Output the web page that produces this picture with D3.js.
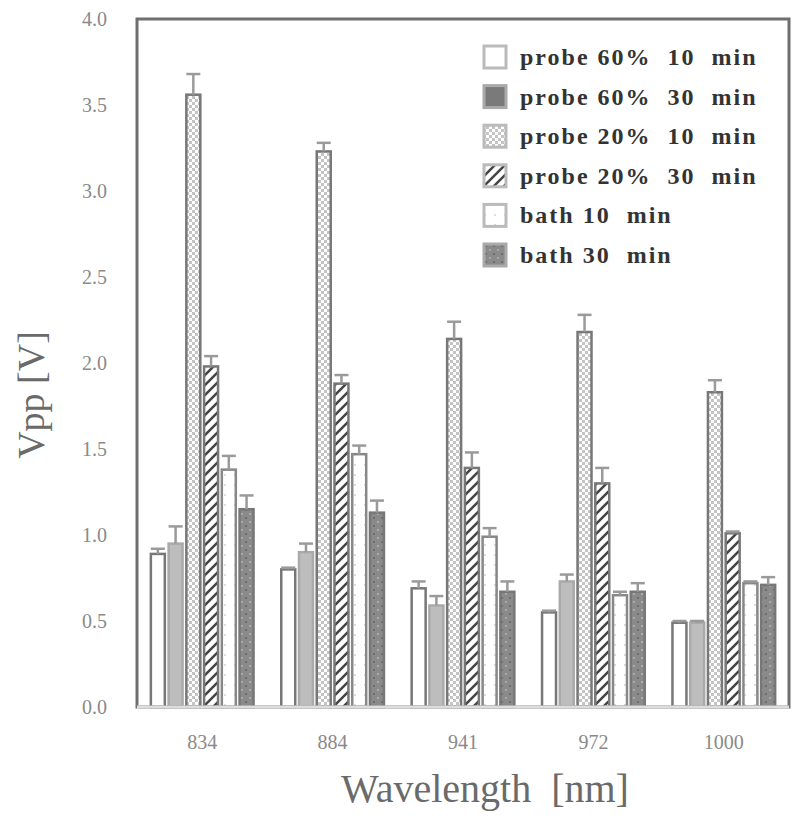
<!DOCTYPE html>
<html><head><meta charset="utf-8">
<script src="https://cdn.jsdelivr.net/npm/d3@7"></script>
<style>
body{margin:0;background:#fff;}
text{font-family:"Liberation Serif","DejaVu Serif",serif;}
</style></head>
<body><svg id="c" width="800" height="820"></svg>
<script>
const categories = ["834","884","941","972","1000"];
const seriesNames = ["probe 60%  10  min","probe 60%  30  min","probe 20%  10  min","probe 20%  30  min","bath 10  min","bath 30  min"];
const p60_10 = [0.89, 0.80, 0.69, 0.55, 0.49];
const p60_30 = [0.95, 0.90, 0.59, 0.73, 0.49];
const p20_10 = [3.56, 3.23, 2.14, 2.18, 1.83];
const p20_30 = [1.98, 1.88, 1.39, 1.30, 1.01];
const bath10 = [1.38, 1.47, 0.99, 0.65, 0.72];
const bath30 = [1.15, 1.13, 0.67, 0.67, 0.71];
const e60_10 = [0.92, 0.81, 0.73, 0.56, 0.50];
const e60_30 = [1.05, 0.95, 0.645, 0.77, 0.50];
const e20_10 = [3.68, 3.28, 2.24, 2.28, 1.90];
const e20_30 = [2.04, 1.93, 1.48, 1.39, 1.02];
const eb10 = [1.46, 1.52, 1.04, 0.67, 0.73];
const eb30 = [1.23, 1.20, 0.73, 0.72, 0.755];
const yTicks = [0,0.5,1.0,1.5,2.0,2.5,3.0,3.5,4.0];

const values = [p60_10,p60_30,p20_10,p20_30,bath10,bath30];
const errs = [e60_10,e60_30,e20_10,e20_30,eb10,eb30];

const SERIF = "'Liberation Serif','DejaVu Serif',serif";
const svg = d3.select("#c");
const L=137, R=789, T=19, B=707;

const defs = svg.append("defs");
const checker = defs.append("pattern").attr("id","checker").attr("patternUnits","userSpaceOnUse").attr("width",6).attr("height",6);
checker.append("rect").attr("width",6).attr("height",6).attr("fill","#fff");
checker.append("rect").attr("width",3).attr("height",3).attr("fill","#c4c4c4");
checker.append("rect").attr("x",3).attr("y",3).attr("width",3).attr("height",3).attr("fill","#c4c4c4");
const hatch = defs.append("pattern").attr("id","hatch").attr("patternUnits","userSpaceOnUse").attr("width",10).attr("height",10);
hatch.append("rect").attr("width",10).attr("height",10).attr("fill","#fff");
hatch.append("path").attr("d","M-2,12 L12,-2 M-2,2 L2,-2 M8,12 L12,8").attr("stroke","#444").attr("stroke-width",2.5);
const dots = defs.append("pattern").attr("id","dots").attr("patternUnits","userSpaceOnUse").attr("width",8).attr("height",8);
dots.append("rect").attr("width",8).attr("height",8).attr("fill","#8a8a8a");
dots.append("rect").attr("x",1).attr("y",1).attr("width",2).attr("height",2).attr("fill","#aaa");
dots.append("rect").attr("x",5).attr("y",5).attr("width",2).attr("height",2).attr("fill","#6e6e6e");
const wdots = defs.append("pattern").attr("id","wdots").attr("patternUnits","userSpaceOnUse").attr("width",10).attr("height",10);
wdots.append("rect").attr("width",10).attr("height",10).attr("fill","#fff");
wdots.append("rect").attr("x",4).attr("y",4).attr("width",2).attr("height",2).attr("fill","#ddd");

const fills = ["#fff","#bdbdbd","url(#checker)","url(#hatch)","url(#wdots)","url(#dots)"];
const strokes = ["#777","#aaa","#777","#777","#888","#777"];
const legendFills = ["#fff","#7a7a7a","url(#checker)","url(#hatch)","url(#wdots)","url(#dots)"];
const legendStrokes = ["#bbb","#aaa","#bbb","#bbb","#bbb","#aaa"];

const x0 = d3.scaleBand().domain(categories).range([L,R]).paddingInner(0.17).paddingOuter(0.085);
const x1 = d3.scaleBand().domain(d3.range(6)).range([0,x0.bandwidth()]).padding(0.1);
const y = d3.scaleLinear().domain([0,4]).range([B,T]);

// bars
const g = svg.append("g");
values.forEach((arr,si)=>{
  g.selectAll(null).data(arr).enter().append("rect")
    .attr("x",(d,i)=>x0(categories[i])+x1(si)+1)
    .attr("width",x1.bandwidth()-2)
    .attr("y",d=>y(d))
    .attr("height",d=>y(0)-y(d))
    .attr("fill",fills[si]).attr("stroke",strokes[si]).attr("stroke-width",2.5);
});
// error bars
errs.forEach((arr,si)=>{
  arr.forEach((e,i)=>{
    const cx = x0(categories[i])+x1(si)+x1.bandwidth()/2;
    const eg = svg.append("g").attr("stroke","#9a9a9a").attr("stroke-width",2.5);
    eg.append("line").attr("x1",cx).attr("x2",cx).attr("y1",y(values[si][i])).attr("y2",y(e));
    eg.append("line").attr("x1",cx-7).attr("x2",cx+7).attr("y1",y(e)).attr("y2",y(e));
  });
});

// frame
svg.append("rect").attr("x",L).attr("y",T).attr("width",R-L).attr("height",B-T)
  .attr("fill","none").attr("stroke","#6f6f6f").attr("stroke-width",3);
svg.append("line").attr("x1",L).attr("x2",R).attr("y1",B).attr("y2",B).attr("stroke","#ddd").attr("stroke-width",3);

// y axis
const yAxis = d3.axisLeft(y).tickValues(yTicks).tickFormat(d3.format(".1f")).tickSize(0).tickPadding(30);
const ya = svg.append("g").attr("transform",`translate(${L},0)`).call(yAxis);
ya.select(".domain").remove();
ya.selectAll("text").attr("font-size",20).attr("fill","#8a8a8a").attr("font-family",SERIF);

// x axis
const xAxis = d3.axisBottom(x0).tickSize(0).tickPadding(28);
const xa = svg.append("g").attr("transform",`translate(0,${B})`).call(xAxis);
xa.select(".domain").remove();
xa.selectAll("text").attr("font-size",20).attr("fill","#8a8a8a").attr("font-family",SERIF);

// titles
svg.append("text").attr("transform","translate(44,395) rotate(-90)").attr("text-anchor","middle")
  .attr("font-size",38).attr("fill","#6a6a6a").attr("font-family",SERIF).text("Vpp [V]");
svg.append("text").attr("x",485).attr("y",802).attr("text-anchor","middle")
  .attr("font-size",40).attr("fill","#6a6a6a").attr("font-family",SERIF)
  .attr("word-spacing",10).text("Wavelength [nm]");

// legend
const lg = svg.append("g");
seriesNames.forEach((n,i)=>{
  const yy = 57 + i*39.6;
  lg.append("rect").attr("x",484).attr("y",yy-11).attr("width",22).attr("height",22)
    .attr("fill",legendFills[i]).attr("stroke",legendStrokes[i]).attr("stroke-width",3);
  lg.append("text").attr("x",520).attr("y",yy+8).attr("font-size",24).attr("fill","#333")
    .attr("font-family",SERIF).attr("letter-spacing",2)
    .style("white-space","pre").attr("font-weight","bold").text(n);
});
</script></body></html>
